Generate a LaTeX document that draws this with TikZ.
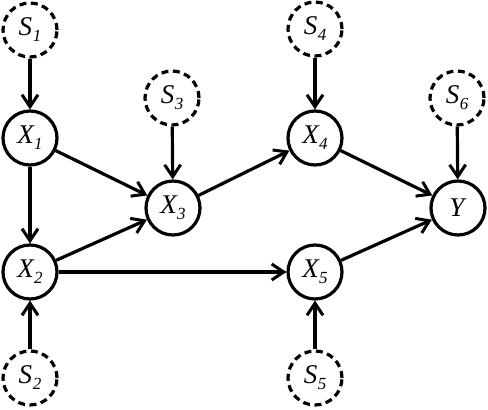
\documentclass[tikz,border=0pt]{standalone}
\usepackage{fontspec}
\setmainfont{Liberation Serif}
\usetikzlibrary{arrows.meta}
\newcommand{\vlbl}[2]{\textit{#1\kern0.5pt\raisebox{-6pt}{\fontsize{17}{17}\selectfont #2}}}
\begin{document}
\begin{tikzpicture}[x=1pt,y=-1pt,
  var/.style={circle,draw,line width=3.2pt,minimum size=54pt,inner sep=0pt,font=\fontsize{27}{27}\selectfont},
  sel/.style={var,dash pattern=on 7pt off 4.5pt},
  edge/.style={line width=3.2pt,-{Straight Barb[length=12pt,width=16pt,line width=3pt]}}]
\path[use as bounding box] (0,0) rectangle (488,410);
\node[sel] (S1) at (30,30) {\vlbl{S}{1}};
\node[var] (X1) at (30,138) {\vlbl{X}{1}};
\node[var] (X2) at (30,272) {\vlbl{X}{2}};
\node[sel] (S2) at (30,378) {\vlbl{S}{2}};
\node[sel] (S3) at (172,98) {\vlbl{S}{3}};
\node[var] (X3) at (173,208) {\vlbl{X}{3}};
\node[sel] (S4) at (315,29) {\vlbl{S}{4}};
\node[var] (X4) at (315,138) {\vlbl{X}{4}};
\node[var] (X5) at (315,272) {\vlbl{X}{5}};
\node[sel] (S5) at (315,378) {\vlbl{S}{5}};
\node[sel] (S6) at (457,98) {\vlbl{S}{6}};
\node[var] (Y) at (458,208) {\textit{Y}};
\draw[edge] (S1) -- (X1);
\draw[edge] (X1) -- (X2);
\draw[edge] (S2) -- (X2);
\draw[edge] (X1) -- (X3);
\draw[edge] (X2) -- (X3);
\draw[edge] (S3) -- (X3);
\draw[edge] (X2) -- (X5);
\draw[edge] (S5) -- (X5);
\draw[edge] (X3) -- (X4);
\draw[edge] (S4) -- (X4);
\draw[edge] (X4) -- (Y);
\draw[edge] (X5) -- (Y);
\draw[edge] (S6) -- (Y);
\end{tikzpicture}
\end{document}
